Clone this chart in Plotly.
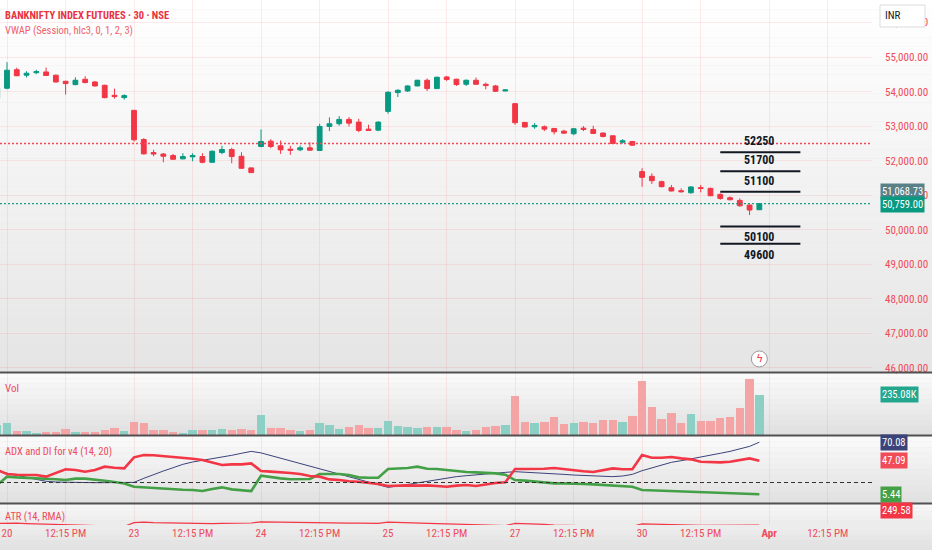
import plotly.graph_objects as go
from plotly.subplots import make_subplots

# 30 minute bars, BANKNIFTY futures. The first bar is the last one of the 19th.
bar_open = [53810, 54100, 54637, 54477, 54550, 54573, 54477, 54302, 54206, 54360, 54282, 54186, 53895, 53828,
            53459, 52616, 52238, 52195, 52151, 52055, 52114, 52122, 51956, 52238, 52326, 52131, 51794,
            52413, 52568, 52433, 52336, 52317, 52375, 52297, 52994, 53073, 53198, 53119, 52916, 52887,
            53430, 53974, 54021, 54166, 54331, 54090, 54427, 54360, 54215, 54331, 54215, 54166, 54021,
            53654, 53110, 52985, 52985, 52936, 52858, 52782, 52945, 52907, 52802, 52724, 52538, 52558,
            51686, 51550, 51395, 51221, 51134, 51075, 51221, 51201, 51026, 50930, 50852, 50718, 50581]
bar_high = [54120, 54855, 54695, 54593, 54637, 54700, 54497, 54317, 54419, 54448, 54311, 54200, 54090, 53924,
            53474, 52654, 52317, 52224, 52200, 52219, 52219, 52219, 52297, 52433, 52375, 52247, 51802,
            52907, 52626, 52587, 52433, 52442, 52538, 53073, 53256, 53294, 53265, 53218, 53044, 53140,
            54012, 54070, 54186, 54346, 54381, 54433, 54456, 54375, 54352, 54410, 54264, 54195, 54070,
            53663, 53120, 53090, 53023, 52951, 52898, 52936, 53004, 53015, 52820, 52733, 52626, 52573,
            51782, 51637, 51424, 51300, 51201, 51265, 51300, 51221, 51056, 50968, 50910, 50727, 50770]
bar_low = [53790, 54070, 54450, 54410, 54506, 54462, 54264, 53916, 54186, 54244, 54148, 53808, 53800, 53770,
           52558, 52180, 52131, 51956, 52035, 52044, 51986, 51927, 51950, 52190, 51927, 51773, 51648,
           52392, 52364, 52200, 52171, 52277, 52297, 52282, 52858, 53015, 52994, 52829, 52869, 52858,
           53363, 53846, 53992, 54157, 54021, 54079, 54311, 54166, 54166, 54200, 54070, 53992, 54012,
           53044, 52965, 52927, 52858, 52762, 52782, 52741, 52858, 52776, 52675, 52485, 52500, 52442,
           51250, 51328, 51230, 51114, 51075, 51046, 51085, 50974, 50872, 50852, 50668, 50427, 50575]
bar_close = [54100, 54622, 54462, 54535, 54580, 54468, 54282, 54235, 54331, 54264, 54166, 53828, 53858, 53887,
             52607, 52200, 52195, 52131, 52044, 52122, 52151, 51956, 52276, 52326, 52122, 51782, 51657,
             52558, 52413, 52317, 52306, 52375, 52306, 52994, 53073, 53198, 53090, 52878, 52878, 53119,
             53983, 54041, 54166, 54331, 54090, 54419, 54352, 54206, 54331, 54215, 54177, 54012, 54050,
             53102, 52977, 53023, 52916, 52840, 52800, 52927, 52907, 52791, 52704, 52500, 52578, 52451,
             51520, 51424, 51250, 51125, 51105, 51241, 51201, 50988, 50910, 50872, 50698, 50573, 50759]
# volume in thousands
bar_volume = [58, 72, 23, 23, 13, 16, 19, 35, 19, 16, 16, 29, 41, 23,
              78, 68, 29, 29, 19, 13, 29, 29, 29, 35, 29, 35, 29,
              115, 39, 39, 29, 23, 29, 68, 58, 35, 45, 57, 39, 39,
              82, 52, 47, 39, 47, 45, 45, 27, 22, 29, 45, 52, 57,
              229, 78, 72, 78, 103, 62, 72, 78, 68, 87, 87, 78, 113,
              315, 161, 93, 130, 72, 124, 82, 82, 99, 105, 157, 325, 235.08]

di_plus = [16.9, 27.3, 26.4, 26.0, 25.6, 25.2, 24.0, 23.1, 24.8, 24.8, 24.0, 22.3, 20.6, 18.9,
           14.8, 14.0, 12.8, 12.3, 11.5, 11.1, 10.7, 9.4, 11.9, 14.0, 11.5, 10.7, 9.4,
           28.5, 26.4, 25.2, 24.0, 24.0, 24.4, 30.6, 30.6, 30.6, 29.3, 26.4, 26.0, 26.0,
           36.8, 37.2, 38.0, 39.7, 37.2, 36.8, 35.5, 34.3, 33.0, 32.6, 32.2, 31.4, 29.7,
           23.1, 22.3, 21.0, 19.8, 18.9, 18.9, 18.9, 18.1, 17.7, 16.9, 16.1, 15.6, 14.8,
           10.7, 10.3, 9.8, 9.0, 8.6, 8.2, 7.8, 7.4, 7.0, 6.5, 6.1, 5.7, 5.44]
di_minus = [35.5, 30.6, 29.7, 29.3, 29.3, 27.3, 32.2, 36.4, 35.5, 33.5, 35.5, 39.7, 38.4, 37.6,
            51.3, 54.2, 53.8, 52.9, 52.1, 50.4, 49.6, 47.9, 44.6, 41.7, 42.6, 42.6, 43.8,
            34.3, 33.5, 33.0, 31.8, 30.6, 28.1, 27.3, 23.9, 23.1, 21.5, 21.0, 19.8, 18.1,
            15.6, 16.5, 16.5, 16.1, 16.5, 15.6, 14.8, 16.1, 16.9, 15.6, 17.7, 19.4, 20.2,
            36.8, 36.8, 36.8, 37.2, 38.0, 36.4, 34.7, 33.9, 33.0, 35.1, 37.6, 36.4, 36.4,
            54.2, 50.8, 50.8, 51.7, 50.0, 48.8, 45.9, 45.0, 45.0, 45.9, 47.9, 50.0, 47.09]
adx_line = [34.3, 31.4, 28.9, 26.4, 23.9, 21.5, 20.6, 20.2, 20.2, 20.2, 19.8, 19.8, 19.8, 19.4,
            20.2, 25.2, 30.1, 34.3, 38.4, 42.6, 45.5, 47.5, 49.6, 51.3, 53.8, 56.3, 58.7,
            56.8, 53.5, 50.1, 46.8, 43.5, 40.1, 36.8, 33.5, 30.1, 26.8, 23.5, 20.2, 16.9,
            14.0, 15.6, 17.7, 19.8, 21.9, 23.9, 25.6, 27.3, 28.5, 29.7, 30.6, 31.8, 32.6,
            33.5, 33.0, 32.2, 31.4, 30.6, 30.1, 29.3, 28.9, 28.1, 27.3, 27.3, 28.1, 30.1,
            34.7, 38.4, 41.7, 45.1, 47.1, 49.2, 51.3, 53.8, 56.3, 58.7, 61.6, 64.9, 70.08]
atr_line = [258, 260, 259, 257, 256, 255, 253, 250, 248, 246, 245, 246, 245, 243,
            262, 264, 262, 261, 259, 258, 257, 257, 257, 258, 258, 258, 260,
            266, 265, 264, 262, 261, 260, 261, 260, 259, 259, 259, 258, 258,
            264, 262, 261, 260, 258, 257, 256, 255, 254, 252, 249, 248, 247,
            258, 257, 255, 253, 250, 248, 247, 246, 245, 244, 244, 243, 243,
            256, 254, 251, 250, 249, 249, 248, 248, 248, 248, 249, 251, 249.58]

day_labels = ["20", "23", "24", "25", "27", "30", "<b>Apr</b>"]
noon_label = "12:15 PM"
bars_per_day = 13

levels = [52250, 51700, 51100, 50100, 49600]
level_sides = ["above", "above", "above", "below", "below"]
prev_close = 52500
vwap_last = 51068.73
adx_threshold = 20

UP = "#089981"
DOWN = "#f23645"
TXT = "#ef4b5a"
FONT = "Roboto Condensed, Roboto, sans-serif"

pos = list(range(len(bar_open)))
first_day = 1
day_pos = [first_day + k * bars_per_day for k in range(len(day_labels))]
noon_pos = [p + 6 for p in day_pos]
tick_vals = sorted(day_pos + noon_pos)
tick_text = [day_labels[day_pos.index(v)] if v in day_pos else noon_label for v in tick_vals]

W, H = 932, 550
M_R, M_B = 60, 25
plot_h = H - M_B
right_edge = W / (W - M_R)


def py(px):
    # pixel row (from top of window) to paper fraction
    return (plot_h - px) / plot_h


fig = make_subplots(rows=4, cols=1, shared_xaxes=True, vertical_spacing=0)

fig.add_trace(go.Candlestick(
    x=pos, open=bar_open, high=bar_high, low=bar_low, close=bar_close,
    increasing=dict(line=dict(color=UP, width=1), fillcolor=UP),
    decreasing=dict(line=dict(color=DOWN, width=1), fillcolor=DOWN),
    whiskerwidth=0, showlegend=False, hoverinfo="skip"), row=1, col=1)

vol_colors = ["#8ccfc4" if c >= o else "#f5a4a6" for o, c in zip(bar_open, bar_close)]
fig.add_trace(go.Bar(x=pos, y=[v * 1000 for v in bar_volume], marker=dict(color=vol_colors, line_width=0),
                     width=0.86, showlegend=False, hoverinfo="skip"), row=2, col=1)

fig.add_trace(go.Scatter(x=pos, y=adx_line, mode="lines", line=dict(color="#3b437a", width=1),
                         showlegend=False, hoverinfo="skip"), row=3, col=1)
fig.add_trace(go.Scatter(x=pos, y=di_plus, mode="lines", line=dict(color="#43a047", width=2.6),
                         showlegend=False, hoverinfo="skip"), row=3, col=1)
fig.add_trace(go.Scatter(x=pos, y=di_minus, mode="lines", line=dict(color="#f23645", width=2.6),
                         showlegend=False, hoverinfo="skip"), row=3, col=1)

fig.add_trace(go.Scatter(x=pos, y=atr_line, mode="lines", line=dict(color="#f23645", width=1.2),
                         showlegend=False, hoverinfo="skip"), row=4, col=1)

# pane layout (pixel rows of the reference)
panes = [(0, 372), (373, 435), (436, 502), (504, plot_h)]
for k, (top, bottom) in enumerate(panes):
    name = "yaxis" if k == 0 else "yaxis%d" % (k + 1)
    fig.layout[name].domain = [py(bottom), py(top)]

grid = "rgba(242,54,69,0.10)"
fig.update_xaxes(range=[0.284, 89.53], tickvals=tick_vals, ticktext=tick_text, showgrid=True,
                 gridcolor=grid, gridwidth=1, zeroline=False, showline=False, ticks="",
                 showticklabels=False, rangeslider_visible=False)
fig.update_xaxes(showticklabels=True, tickfont=dict(family=FONT, size=11, color=TXT), row=4, col=1)

fig.update_yaxes(side="right", zeroline=False, showline=False, ticks="", fixedrange=True)
fig.update_yaxes(range=[45884, 56655], dtick=1000, tickformat=",.2f", showgrid=True, gridcolor=grid,
                 tickfont=dict(family=FONT, size=11, color=TXT), ticklabelstandoff=12, row=1, col=1)
fig.update_yaxes(range=[0, 361000], showgrid=False, showticklabels=False, row=2, col=1)
fig.update_yaxes(range=[-4.2, 77.8], showgrid=False, showticklabels=False, row=3, col=1)
fig.update_yaxes(range=[250, 355], showgrid=False, showticklabels=False, row=4, col=1)


def shade(top, bottom, c_top, c_bottom, steps):
    for k in range(steps):
        t = k / max(steps - 1, 1)
        col = tuple(round(a + (b - a) * t) for a, b in zip(c_top, c_bottom))
        fig.add_shape(type="rect", xref="paper", yref="paper", x0=0, x1=right_edge,
                      y0=py(top + (bottom - top) * (k + 1) / steps), y1=py(top + (bottom - top) * k / steps),
                      fillcolor="rgb(%d,%d,%d)" % col, line_width=0, layer="below")


shade(0, 373, (255, 255, 255), (229, 229, 229), 40)
shade(373, 436, (250, 250, 250), (224, 224, 224), 12)
shade(436, 503, (250, 250, 250), (225, 225, 225), 12)
shade(503, plot_h, (248, 248, 248), (236, 236, 236), 5)
shade(plot_h, H, (236, 236, 236), (226, 226, 226), 5)

for y in (372.5, 435.5, 503.5):
    fig.add_shape(type="line", xref="paper", yref="paper", x0=0, x1=right_edge, y0=py(y), y1=py(y),
                  line=dict(color="#505050", width=2))

# dotted price lines
fig.add_shape(type="line", xref="x domain", yref="y", x0=0, x1=1, y0=prev_close, y1=prev_close,
              line=dict(color="#f04a58", width=1.3, dash="2px,2px"))
fig.add_shape(type="line", xref="x domain", yref="y", x0=0, x1=1, y0=bar_close[-1], y1=bar_close[-1],
              line=dict(color="#16a085", width=1.3, dash="2px,2px"))
# ADX threshold
fig.add_shape(type="line", xref="x3 domain", yref="y3", x0=0, x1=1, y0=adx_threshold, y1=adx_threshold,
              line=dict(color="#333333", width=1, dash="4px,3px"))

# drawn support / resistance levels
last = pos[-1]
for lv, side in zip(levels, level_sides):
    fig.add_shape(type="line", xref="x", yref="y", x0=last - 4.0, x1=last + 4.2, y0=lv, y1=lv,
                  line=dict(color="#131722", width=2))
    fig.add_annotation(x=last, y=lv, xref="x", yref="y", text="<b>%d</b>" % lv, showarrow=False,
                       yshift=11 if side == "above" else -11,
                       font=dict(family=FONT, size=12, color="#131722"))

# event marker
fig.add_shape(type="circle", xref="x", yref="y", xsizemode="pixel", ysizemode="pixel",
              xanchor=last, yanchor=46262, x0=-8, x1=8, y0=-8, y1=8,
              fillcolor="white", line=dict(color="#9a9a9a", width=1))
fig.add_annotation(x=last, y=46262, xref="x", yref="y", text="ϟ", showarrow=False,
                   font=dict(family="DejaVu Sans", size=11, color="#f23645"))


def tag(y, yref, text, bg, shift=0):
    fig.add_annotation(x=1, xref="paper", xanchor="left", xshift=8, y=y, yref=yref, yshift=shift,
                       text=text, showarrow=False, bgcolor=bg, borderpad=1,
                       font=dict(family=FONT, size=10.5, color="white"))


tag(vwap_last, "y", format(vwap_last, ",.2f"), "#5a8088", 1)
tag(bar_close[-1], "y", format(bar_close[-1], ",.2f"), UP, -1)
tag(bar_volume[-1] * 1000, "y2", "%.2fK" % bar_volume[-1], "#22a68d")
tag(adx_line[-1], "y3", "%.2f" % adx_line[-1], "#3b437a")
tag(di_minus[-1], "y3", "%.2f" % di_minus[-1], "#f24b58")
tag(di_plus[-1], "y3", "%.2f" % di_plus[-1], "#43a047")
tag(py(518.5), "paper", "%.2f" % atr_line[-1], "#f23645")

# INR currency button
fig.add_shape(type="rect", xref="paper", yref="paper", x0=880 / (W - M_R), x1=925 / (W - M_R),
              y0=py(27), y1=py(5), fillcolor="white", line=dict(color="#dcdcdc", width=1))
fig.add_annotation(x=902.5 / (W - M_R), y=py(16), xref="paper", yref="paper", text="INR", showarrow=False,
                   yanchor="middle", font=dict(family=FONT, size=11, color="#131722"))

# pane titles
titles = [
    (15, "<b>BANKNIFTY INDEX FUTURES · 30 · NSE</b>", "#e8323f", 10.5),
    (30, "VWAP (Session, hlc3, 0, 1, 2, 3)", "#f0606c", 10.5),
    (388, "Vol", TXT, 11),
    (451, "ADX and DI for v4 (14, 20)", TXT, 10.5),
    (516, "ATR (14, RMA)", TXT, 10.5),
]
for yy, text, col, size in titles:
    fig.add_annotation(x=0.004, y=py(yy), xref="paper", yref="paper", xanchor="left", yanchor="middle",
                       text=text, showarrow=False, font=dict(family=FONT, size=size, color=col))

fig.update_layout(
    width=W, height=H,
    margin=dict(l=0, r=M_R, t=0, b=M_B),
    paper_bgcolor="#e6e6e6",
    plot_bgcolor="rgba(0,0,0,0)",
    bargap=0,
    showlegend=False,
    hovermode=False,
    font=dict(family=FONT),
)

fig.write_html("out.html", config={"displayModeBar": False},
               post_script="document.body.style.margin='0px';")
